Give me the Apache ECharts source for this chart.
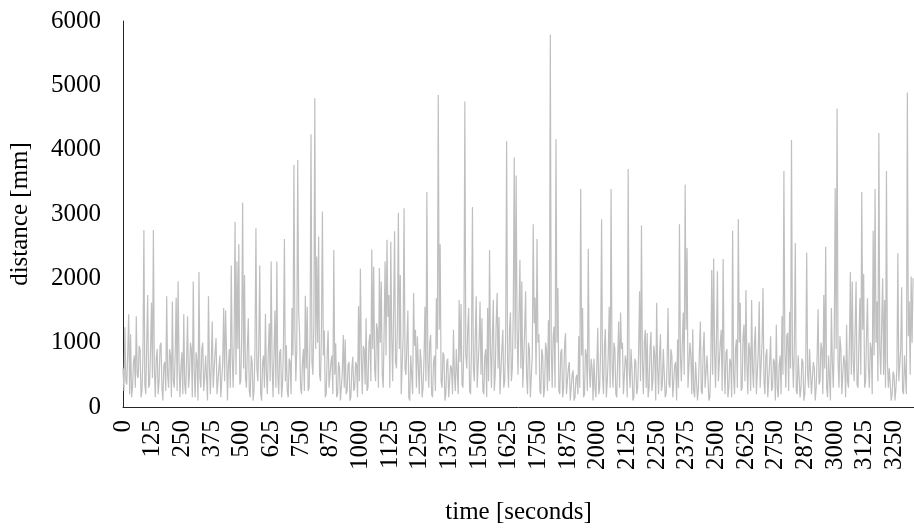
<!DOCTYPE html>
<html>
<head>
<meta charset="utf-8">
<script src="https://cdn.jsdelivr.net/npm/echarts@6/dist/echarts.min.js"></script>
<style>
  html, body { margin: 0; padding: 0; background: #fff; }
  #chart { width: 914px; height: 528px; }
</style>
</head>
<body>
<div id="chart"></div>
<script>
// one sample every 4 seconds
const step = 4;
const distance = [
  600,250, 1240,400, 350,850, 1440,200, 1130,150, 300,700, 800,300, 1410,500, 450,950, 900,150, 250,800, 2750,350, 200,1000, 1740,300, 350,900, 1625,450,
  2750,600, 150,750, 900,200, 400,950, 1000,300, 100,650, 700,250, 1720,500, 300,900, 800,150, 1640,400, 300,850, 1700,250, 1950,700, 150,600, 850,200,
  1440,350, 200,750, 1410,300, 500,1000, 900,150, 1950,550, 150,850, 700,100, 2100,450, 300,900, 1000,250, 450,800, 800,100, 1720,650, 200,700, 1330,300,
  300,850, 1070,200, 200,600, 800,150, 150,700, 1540,400, 1500,900, 100,650, 900,300, 2200,800, 300,1000, 2880,500, 2260,900, 2530,350, 400,1100, 3180,600,
  2050,450, 300,950, 1380,250, 150,800, 700,100, 250,900, 2780,600, 400,1000, 2200,200, 100,700, 800,300, 1450,550, 200,850, 1300,400, 2260,700, 150,800,
  1500,300, 2260,500, 200,850, 900,150, 350,1000, 2610,400, 960,250, 150,750, 700,200, 1540,800, 3760,1200, 400,900, 3840,1500, 1130,300, 200,700, 900,250,
  1730,600, 1560,250, 300,1100, 4240,700, 500,1300, 4800,900, 2340,1000, 2650,500, 400,1200, 3040,800, 1190,150, 200,800, 1190,300, 300,700, 800,200, 2440,500,
  990,150, 200,700, 600,100, 100,550, 1120,300, 1050,200, 250,650, 700,100, 150,600, 780,250, 300,700, 650,150, 1570,400, 2150,800, 200,950, 900,350,
  1380,250, 300,1000, 1130,400, 2450,900, 2180,600, 400,1300, 1200,300, 2160,1000, 1950,500, 300,1200, 2260,800, 2600,1400, 1740,300, 2570,1100, 400,1500, 2730,700,
  600,1300, 3020,900, 2050,200, 200,1100, 3090,600, 500,1000, 1500,150, 100,800, 800,200, 1770,950, 1200,300, 1100,650, 200,900, 700,150, 300,750, 1560,400,
  3340,700, 300,1000, 1120,200, 150,700, 800,250, 1690,900, 4850,1200, 2530,400, 300,850, 800,100, 200,700, 750,150, 150,650, 600,200, 1200,500, 250,900,
  900,200, 1665,700, 1600,350, 300,1000, 4750,800, 600,1200, 1540,250, 200,900, 3110,600, 400,1100, 1720,300, 300,1000, 1640,500, 1380,250, 200,800, 900,150,
  1540,400, 2440,900, 300,1100, 1665,250, 500,1300, 1770,600, 1400,200, 200,900, 1200,300, 400,1100, 4130,700, 300,1200, 1470,400, 600,1500, 3880,900, 3600,1200,
  500,1400, 2290,600, 1950,300, 300,1200, 1800,500, 200,1000, 900,150, 150,800, 2840,1300, 1700,500, 2610,1000, 1130,250, 200,900, 800,150, 300,1000, 900,250,
  1350,400, 5790,900, 300,1100, 1250,300, 4160,1000, 1850,250, 200,850, 900,150, 300,950, 1150,200, 200,600, 700,100, 300,500, 570,100, 150,450, 500,200,
  1100,300, 3390,800, 1540,150, 200,900, 800,250, 2460,600, 300,750, 600,100, 750,300, 150,650, 1230,200, 300,900, 2920,500, 200,950, 1210,150, 400,800,
  1560,300, 3390,700, 300,1000, 900,200, 150,750, 1330,300, 1470,900, 1000,200, 200,800, 700,150, 3700,600, 300,900, 600,100, 150,750, 700,200, 300,850,
  1800,400, 2820,700, 200,1000, 1200,300, 1150,150, 300,900, 1170,250, 400,950, 800,100, 1620,600, 200,800, 1130,250, 350,900, 900,150, 200,700, 1540,350,
  300,900, 800,150, 150,650, 700,100, 1050,300, 2840,800, 400,1000, 1470,500, 3460,1200, 2470,300, 300,1000, 800,200, 1210,250, 150,700, 700,100, 300,850,
  1330,250, 200,900, 1170,300, 300,800, 800,100, 150,700, 2130,500, 2310,900, 300,1100, 2110,400, 400,1000, 1200,250, 2300,700, 200,850, 900,150, 300,750,
  700,150, 2740,500, 200,900, 1050,300, 2920,1000, 1620,250, 300,1100, 1280,400, 1820,700, 200,1000, 900,250, 1665,600, 300,1000, 1250,200, 200,850, 1640,300,
  300,1000, 1850,400, 200,800, 900,150, 150,700, 1100,250, 300,750, 700,100, 1280,300, 150,650, 800,200, 1410,500, 3670,900, 300,1100, 1150,250, 1480,600,
  4150,800, 300,1000, 2550,250, 200,800, 800,150, 300,750, 700,100, 200,650, 2400,500, 300,900, 900,200, 200,700, 600,100, 300,800, 1520,350, 400,1000,
  900,200, 1740,600, 2490,300, 150,800, 800,100, 1540,700, 300,1000, 3400,900, 4640,700, 300,1100, 900,200, 200,800, 700,150, 1280,400, 300,1000, 2100,500,
  1950,700, 400,1200, 1950,350, 300,1000, 1690,500, 3340,1200, 2070,300, 400,1100, 1690,600, 300,1000, 900,200, 2740,800, 3390,1000, 1640,400, 4260,900, 500,1300,
  2000,500, 1665,300, 3670,700, 300,600, 600,100, 200,550, 500,100, 300,600, 2390,400, 400,900, 1860,250, 200,800, 800,200, 4890,1100, 1640,500, 2030,1000,
  2000
];

const points = distance.map((v, i) => [i * step, v]);

const font = '"Liberation Serif", "Times New Roman", serif';
const plain = v => String(v);

const chart = echarts.init(document.getElementById('chart'));
chart.setOption({
  animation: false,
  grid: { left: 123, right: 0, top: 21, bottom: 121, outerBoundsMode: 'none', containLabel: false },
  xAxis: {
    type: 'value',
    min: 0,
    max: 3332,
    interval: 125,
    name: 'time [seconds]',
    nameLocation: 'middle',
    nameGap: 93,
    nameTextStyle: { fontFamily: font, fontSize: 25, color: '#000' },
    axisLine: { lineStyle: { color: '#262626', width: 1 } },
    axisTick: { show: false },
    splitLine: { show: false },
    axisLabel: {
      rotate: 90, margin: 13, showMaxLabel: false, formatter: plain,
      fontFamily: font, fontSize: 25, color: '#000'
    }
  },
  yAxis: {
    type: 'value',
    min: 0,
    max: 6000,
    interval: 1000,
    name: 'distance [mm]',
    nameLocation: 'middle',
    nameGap: 90,
    nameTextStyle: { fontFamily: font, fontSize: 25, color: '#000' },
    axisLine: { show: true, lineStyle: { color: '#262626', width: 1 } },
    axisTick: { show: false },
    splitLine: { show: false },
    axisLabel: { margin: 22, formatter: plain, fontFamily: font, fontSize: 25, color: '#000' }
  },
  series: [{
    type: 'line',
    data: points,
    showSymbol: false,
    lineStyle: { color: '#bfbfbf', width: 1.2 },
    z: 1
  }]
});
</script>
</body>
</html>
